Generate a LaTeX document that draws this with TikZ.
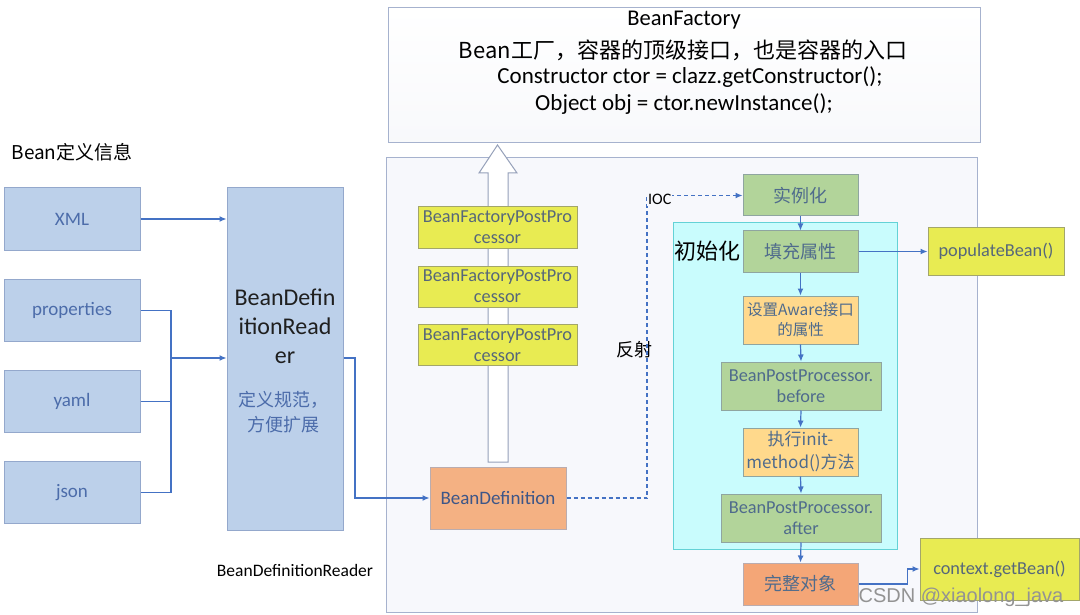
\documentclass[tikz,border=0pt]{standalone}
\usepackage{fontspec}
\setmainfont{Carlito}
\newfontfamily\cjk{Noto Sans CJK SC}
\newfontfamily\wmfont{Liberation Sans}
\usetikzlibrary{arrows.meta}
\definecolor{srcblue}{HTML}{BCD0EA}
\definecolor{srcedge}{HTML}{94A8CC}
\definecolor{srctext}{HTML}{4C6CAA}
\definecolor{flowblue}{HTML}{4472C4}
\definecolor{pane}{HTML}{F7F8FC}
\definecolor{paneedge}{HTML}{A6B2CE}
\definecolor{procyellow}{HTML}{E8EB52}
\definecolor{procedge}{HTML}{A3A66A}
\definecolor{proctext}{HTML}{56677A}
\definecolor{bdorange}{HTML}{F4B183}
\definecolor{fullorange}{HTML}{F4A677}
\definecolor{stepgreen}{HTML}{B2D49A}
\definecolor{stepedge}{HTML}{8FA5A0}
\definecolor{steptext}{HTML}{4F6B8C}
\definecolor{awareyellow}{HTML}{FFD98C}
\definecolor{initcyan}{HTML}{C9FCFD}
\definecolor{initedge}{HTML}{63D2D6}

\begin{document}
\begin{tikzpicture}[x=1pt,y=-1pt,>={Latex[length=7pt,width=6pt]},
  srcbox/.style={draw=srcedge, fill=srcblue, line width=1pt, text=srctext,
    minimum width=136, minimum height=62, font=\fontsize{19}{22}\selectfont},
  ppbox/.style={draw=procedge, fill=procyellow, text=proctext, line width=1pt,
    minimum width=159, minimum height=41, inner sep=1pt, align=center,
    font=\fontsize{18.3}{21}\selectfont},
  stepbox/.style={draw=stepedge, fill=stepgreen, text=steptext, line width=1pt,
    minimum width=115, minimum height=41, inner sep=1pt, align=center,
    font=\fontsize{18.3}{21}\selectfont},
  cjk/.style={font=\fontsize{18}{22}\selectfont\cjk},
  flow/.style={draw=flowblue, line width=1.2pt},
  flowarrow/.style={flow, ->},
  dashflow/.style={flow, line width=1.1pt, dash pattern=on 4pt off 3pt, ->}]
  \useasboundingbox (0,0) rectangle (1080,615);

  % BeanFactory on top
  \node[draw=paneedge, line width=1pt, top color=white, bottom color=pane!80!paneedge!30,
    minimum width=592, minimum height=135] (factory) at (684,75.5) {};
  \node[font=\fontsize{22.5}{26}\selectfont] (fname) at (684,20) {BeanFactory};
  \node[font=\fontsize{22}{26}\selectfont\cjk] (fdesc) at (683,50) {Bean工厂，容器的顶级接口，也是容器的入口};
  \node[font=\fontsize{23}{27}\selectfont] (fctor) at (690,77) {Constructor ctor = clazz.getConstructor();};
  \node[font=\fontsize{23}{27}\selectfont] (fobj) at (684,104) {Object obj = ctor.newInstance();};

  % container
  \node[draw=paneedge, fill=pane, line width=1pt, minimum width=591, minimum height=454] (pane) at (681.5,385) {};
  \draw[draw=paneedge!90!black, fill=white, line width=1pt]
    (488,462) -- (488,173) -- (479,173) -- (497.5,145) -- (517,173) -- (508,173) -- (508,462) -- cycle;
  \node[ppbox] (pp1) at (497.5,227.5) {BeanFactoryPostPro\\cessor};
  \node[ppbox] (pp2) at (497.5,286.5) {BeanFactoryPostPro\\cessor};
  \node[ppbox] (pp3) at (497.5,345) {BeanFactoryPostPro\\cessor};
  \node[cjk] (reflect) at (634,350) {反射};
  \node[srcbox, draw=srcedge!60!bdorange, fill=bdorange, text=srctext!80!black] (beandef) at (498,498) {BeanDefinition};

  % bean life cycle
  \node[draw=initedge, fill=initcyan, line width=1pt, minimum width=224, minimum height=326] (initpane) at (785,386) {};
  \node[font=\fontsize{22}{26}\selectfont\cjk] (initlabel) at (707,251) {初始化};
  \node[stepbox, cjk] (inst) at (800.5,195.5) {实例化};
  \node[stepbox, cjk] (fill) at (800.5,251.5) {填充属性};
  \node[stepbox, fill=awareyellow, minimum height=48, font=\fontsize{15.5}{20}\selectfont\cjk] (aware) at (800.5,320) {设置Aware接口\\的属性};
  \node[stepbox, minimum width=160, minimum height=48] (before) at (801,386) {BeanPostProcessor.\\before};
  \node[stepbox, fill=awareyellow, minimum height=48, font=\fontsize{17}{23}\selectfont\cjk] (initm) at (800.5,452) {执行init-\\method()方法};
  \node[stepbox, minimum width=160, minimum height=48] (after) at (801,518) {BeanPostProcessor.\\after};
  \node[stepbox, fill=fullorange, draw=srcedge!60!bdorange, minimum height=42, cjk] (full) at (800.5,584) {完整对象};
  \node[ppbox, minimum width=136, minimum height=47] (populate) at (996,251.5) {populateBean()};
  \node[ppbox, minimum height=62] (getbean) at (999.5,569) {context.getBean()};

  % bean definition sources
  \node[anchor=west, font=\fontsize{19}{23}\selectfont\cjk] (title) at (8,152) {Bean定义信息};
  \node[srcbox] (xml) at (72,219) {XML};
  \node[srcbox] (props) at (72,310.5) {properties};
  \node[srcbox] (yaml) at (72,401.5) {yaml};
  \node[srcbox] (json) at (72,492.5) {json};
  \node[srcbox, minimum width=116, minimum height=342] (reader) at (285,359) {};
  \node[font=\fontsize{24}{29}\selectfont, text=black!88, align=center] (readername) at (285,326) {BeanDefin\\itionRead\\er};
  \node[font=\fontsize{18}{25}\selectfont\cjk, text=srctext, align=center] (readernote) at (283,412) {定义规范，\\方便扩展};
  \node[font=\fontsize{17.5}{21}\selectfont] (readerlabel) at (295,570) {BeanDefinitionReader};

  % connectors
  \coordinate (bus) at (171,358);
  \coordinate (drop) at (355,358);
  \coordinate (ioc) at (647,195.5);
  \draw[flowarrow] (xml.east) -- (xml.east -| reader.west);
  \draw[flow] (props.east) -| (bus) |- (json.east);
  \draw[flow] (yaml.east) -- (yaml.east -| bus);
  \draw[flowarrow] (bus) -- (bus -| reader.west);
  \draw[flowarrow] (reader.east |- drop) -- (drop) |- (beandef.west);
  \draw[dashflow] (beandef.east) -| (ioc) -- (inst.west);
  \node[anchor=west, fill=pane, inner sep=1pt, yshift=-4, font=\fontsize{16}{18}\selectfont] (ioclabel) at (ioc) {IOC};
  \foreach \a/\b in {inst/fill, fill/aware, aware/before, before/initm, initm/after, after/full}
    \draw[flowarrow] (\a.south) -- (\b.north);
  \draw[flowarrow] (fill.east) -- (populate.west);
  \draw[flowarrow] (full.east) -- ++(49,0) |- (getbean.west);

  \node[font=\fontsize{20}{24}\selectfont\wmfont, text=gray!85] (mark) at (961,597) {CSDN @xiaolong\_java};
\end{tikzpicture}
\end{document}
